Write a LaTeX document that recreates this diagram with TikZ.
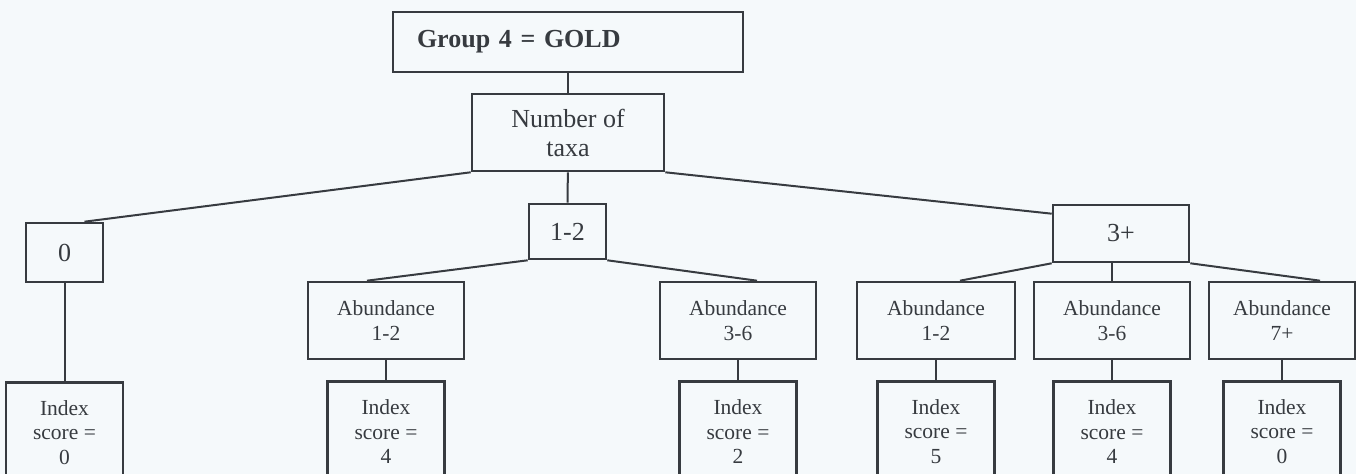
\documentclass[tikz,border=0pt]{standalone}
\usepackage{fontspec}
\setmainfont{Liberation Serif}
\usetikzlibrary{positioning}
\definecolor{inkgray}{RGB}{55,59,64}
\definecolor{paper}{RGB}{245,249,251}
\tikzset{
    block/.style = {draw=inkgray, line width=1.3pt, rectangle, align=center, text=inkgray, inner sep=0pt, font=\fontsize{13}{14.5}\selectfont},
    abund/.style = {block, minimum width=78pt, minimum height=38.5pt, font=\fontsize{10.75}{12.25}\selectfont},
    score/.style = {abund, minimum width=58.5pt, minimum height=50pt},
    link/.style = {draw=inkgray, line width=1pt},
}
\begin{document}
\begin{tikzpicture}[x=0.5pt, y=-0.5pt, node distance=10pt]
                    \path[use as bounding box, fill=paper] (0,0) rectangle (1356,474);
                    \node[block, minimum width=175pt, minimum height=30pt, text width=151pt, align=left, font=\bfseries\fontsize{13}{14.5}\selectfont] (group) at (568,42) {Group 4 = GOLD};
                    \node[block, minimum width=96pt, minimum height=38.5pt] (taxa) at (568,132.5) {Number of\\taxa};
                    \node[block, minimum width=38.5pt, minimum height=29.5pt] (t0) at (64.5,252.5) {0};
                    \node[block, minimum width=38.5pt, minimum height=27.5pt] (t12) at (567.5,231.5) {1-2};
                    \node[block, minimum width=68pt, minimum height=28.5pt] (t3) at (1121,233.5) {3+};
                    \node[abund] (a1) at (386,320.5) {Abundance\\1-2};
                    \node[abund] (a2) at (738,320.5) {Abundance\\3-6};
                    \node[abund, minimum width=79pt] (a3) at (936,320.5) {Abundance\\1-2};
                    \node[abund] (a4) at (1112,320.5) {Abundance\\3-6};
                    \node[abund, minimum width=73pt] (a5) at (1282,320.5) {Abundance\\7+};
                    \node[score, below=49pt of t0] (i0) {Index\\score =\\0};
                    \node[score, below=of a1] (i1) {Index\\score =\\4};
                    \node[score, below=of a2] (i2) {Index\\score =\\2};
                    \node[score, below=of a3] (i3) {Index\\score =\\5};
                    \node[score, below=of a4] (i4) {Index\\score =\\4};
                    \node[score, below=of a5] (i5) {Index\\score =\\0};

                    \draw[link] (group) -- (taxa);
                    \draw[link] (taxa.south west) -- ([xshift=10pt]t0.north);
                    \draw[link] (taxa) -- (t12);
                    \draw[link] (taxa.south east) -- ([yshift=-5pt]t3.north west);
                    \draw[link] (t0) -- (i0);
                    \draw[link] (t12.south west) -- ([xshift=-9.5pt]a1.north);
                    \draw[link] (t12.south east) -- ([xshift=9.5pt]a2.north);
                    \draw[link] (t3.south west) -- ([xshift=12pt]a3.north);
                    \draw[link] (t3.south -| a4.north) -- (a4.north);
                    \draw[link] (t3.south east) -- ([xshift=19pt]a5.north);
                    \draw[link] (a1) -- (i1);
                    \draw[link] (a2) -- (i2);
                    \draw[link] (a3) -- (i3);
                    \draw[link] (a4) -- (i4);
                    \draw[link] (a5) -- (i5);
                \end{tikzpicture}
\end{document}
